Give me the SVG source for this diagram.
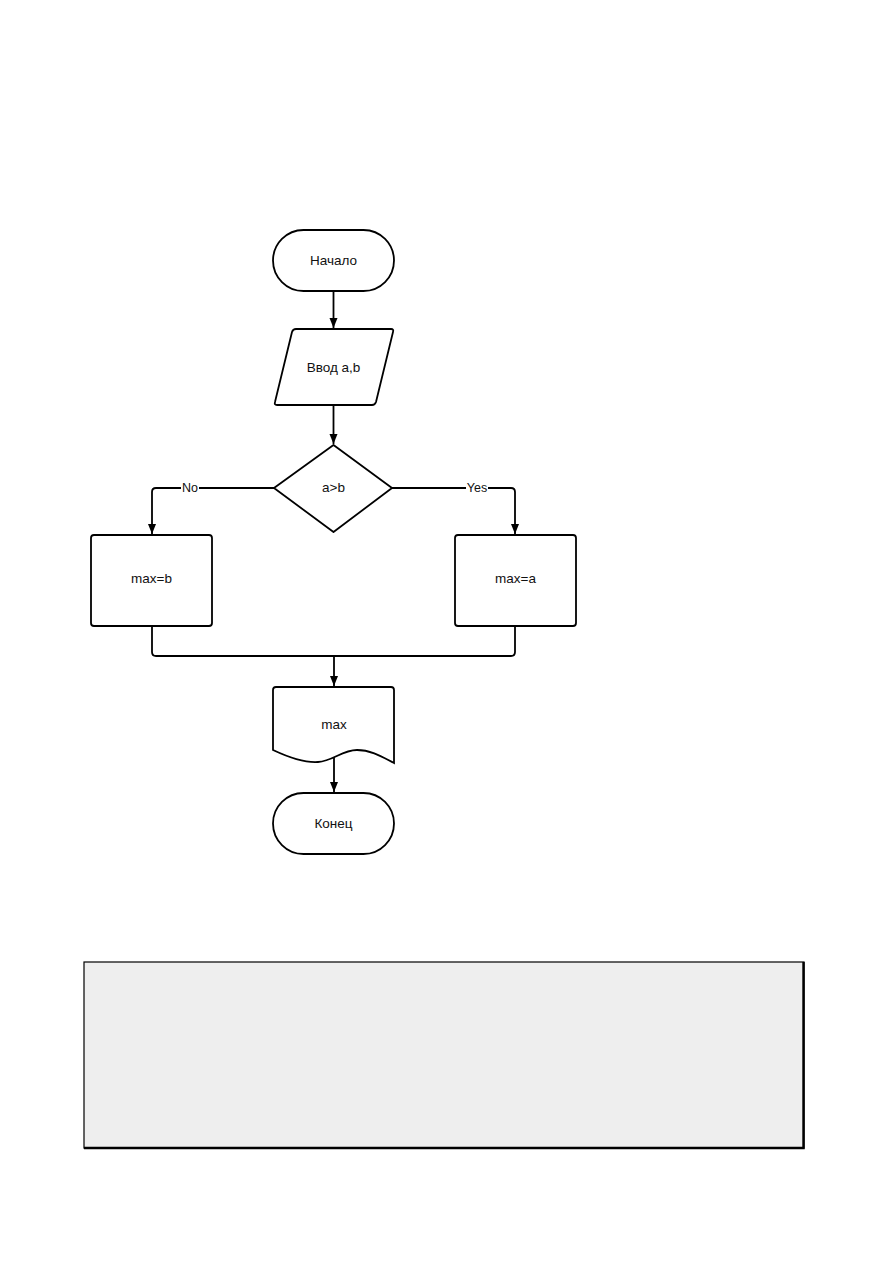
<svg xmlns="http://www.w3.org/2000/svg" width="891" height="1262" viewBox="0 0 891 1262">
<style>
.shape{fill:#fff;stroke:#000;stroke-width:1.8}
.conn{fill:none;stroke:#000;stroke-width:1.8}
.lbl{font-family:"Liberation Sans",Arial,sans-serif;font-size:13.5px;fill:#111;text-anchor:middle;dominant-baseline:central}
.elbl{font-family:"Liberation Sans",Arial,sans-serif;font-size:12.5px;fill:#111;text-anchor:middle;dominant-baseline:central}
</style>
<defs>
<marker id="arr" markerWidth="10" markerHeight="12" refX="10" refY="5" orient="auto" markerUnits="userSpaceOnUse">
<path d="M0,1 L10,5 L0,9 Z" fill="#000"/>
</marker>
</defs>
<rect width="891" height="1262" fill="#fff"/>
<g id="connectors">
<path class="conn" d="M333.5,291 V328" marker-end="url(#arr)"/>
<path class="conn" d="M333.5,405 V444" marker-end="url(#arr)"/>
<path class="conn" d="M274,488 H156 Q152,488 152,492 V534" marker-end="url(#arr)"/>
<path class="conn" d="M392,488 H511 Q515,488 515,492 V534" marker-end="url(#arr)"/>
<path class="conn" d="M152,626 V652 Q152,656 156,656 H511 Q515,656 515,652 V626"/>
<path class="conn" d="M334,656 V686" marker-end="url(#arr)"/>
<path class="conn" d="M334,756 V792" marker-end="url(#arr)"/>
<rect x="181" y="481" width="18" height="14" fill="#fff"/>
<text class="elbl" x="190" y="488">No</text>
<rect x="466" y="481" width="22" height="14" fill="#fff"/>
<text class="elbl" x="477" y="488">Yes</text>
</g>
<g id="start">
<rect class="shape" x="273" y="230" width="121" height="61" rx="30.5"/>
<text class="lbl" x="333.5" y="260">Начало</text>
</g>
<g id="input">
<path class="shape" d="M296,329 H391 Q394,329 393,332 L376,402 Q375,405 372,405 H277 Q274,405 275,402 L292,332 Q293,329 296,329 Z"/>
<text class="lbl" x="333.5" y="367">Ввод a,b</text>
</g>
<g id="decision">
<path class="shape" d="M333.5,445 L392,488 L333.5,532 L274,488 Z" stroke-linejoin="round"/>
<text class="lbl" x="333.5" y="487">a&gt;b</text>
</g>
<g id="max_b">
<rect class="shape" x="91" y="535" width="121" height="91" rx="3"/>
<text class="lbl" x="151.5" y="578">max=b</text>
</g>
<g id="max_a">
<rect class="shape" x="455" y="535" width="121" height="91" rx="3"/>
<text class="lbl" x="515.5" y="578">max=a</text>
</g>
<g id="output">
<path class="shape" d="M276,687 H391 Q394,687 394,690 V763 C384,758 372,750 357,750 C342,750 333,761 318,762 C304,763 290,758 273,750 V690 Q273,687 276,687 Z"/>
<text class="lbl" x="334" y="724">max</text>
</g>
<g id="end">
<rect class="shape" x="273" y="793" width="121" height="61" rx="30.5"/>
<text class="lbl" x="333.5" y="823">Конец</text>
</g>
<g id="panel">
<rect x="84" y="962" width="720" height="186" fill="#eeeeee" stroke="#000" stroke-width="1.2"/>
<path d="M803.5,962 V1148 H84" fill="none" stroke="#000" stroke-width="2.4"/>
</g>
</svg>
